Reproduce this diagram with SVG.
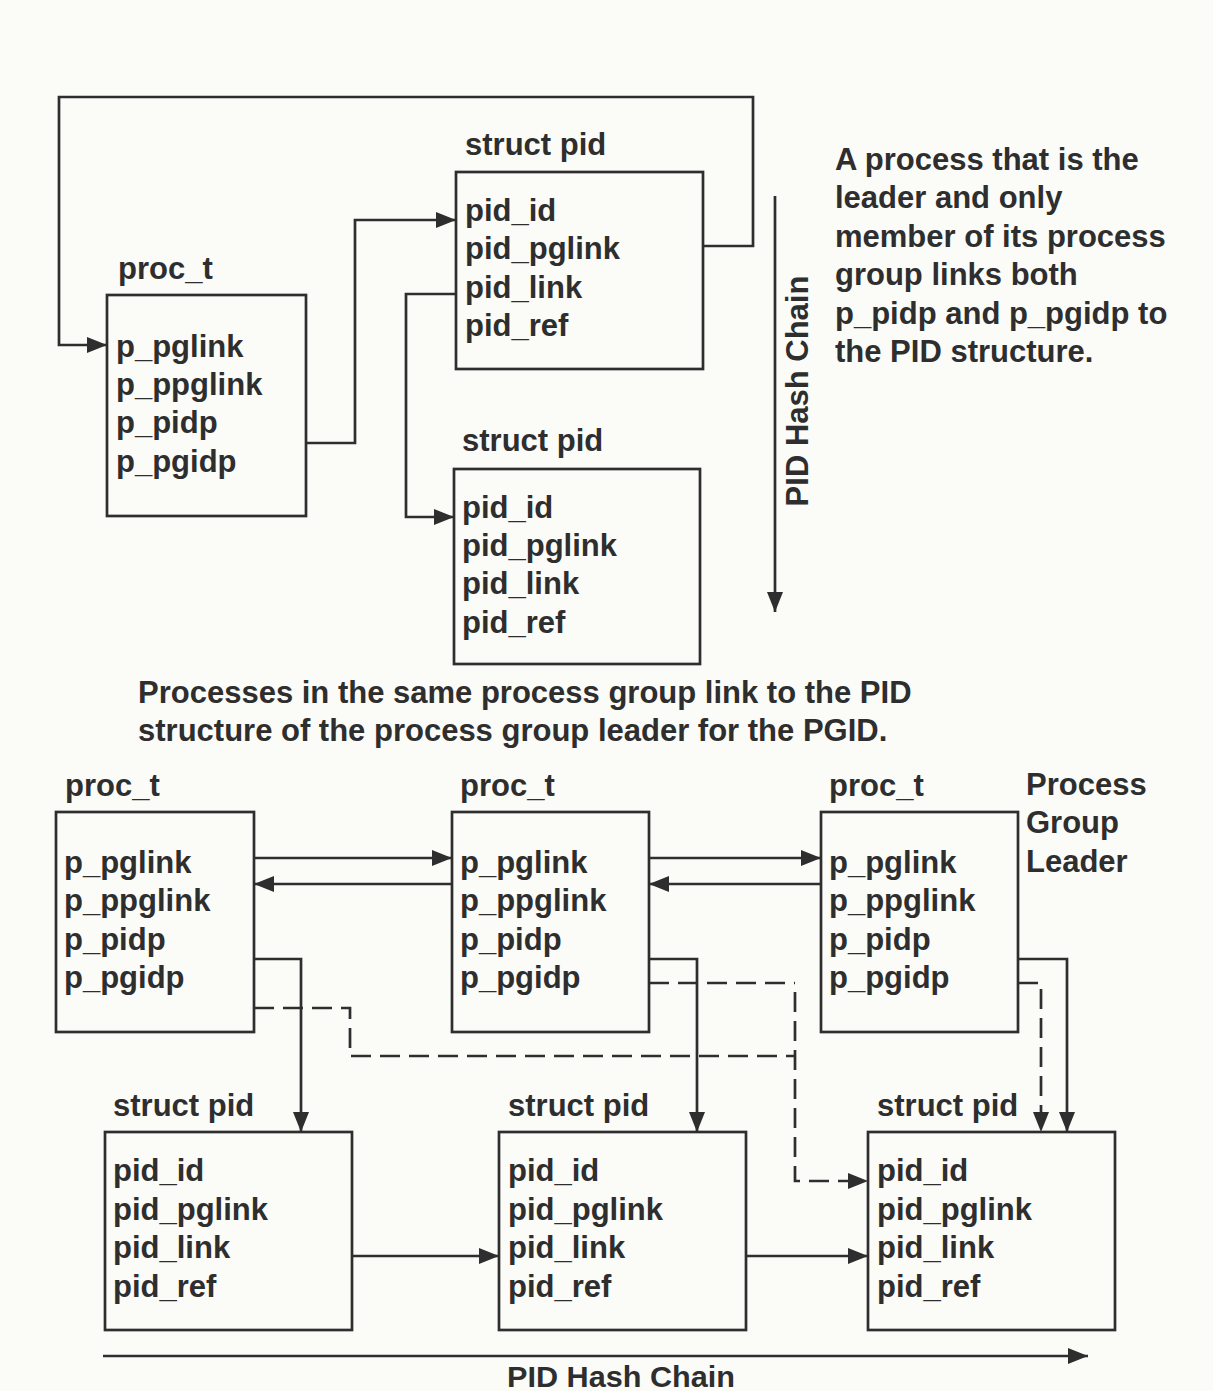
<svg xmlns="http://www.w3.org/2000/svg" width="1213" height="1391" viewBox="0 0 1213 1391">
<defs>
<marker id="ah" markerUnits="userSpaceOnUse" markerWidth="22" markerHeight="18" refX="20" refY="8" orient="auto">
<path d="M0,0 L20,8 L0,16 z" fill="#2e2e2e"/>
</marker>
<style>
text{font-family:"Liberation Sans",Arial,Helvetica,sans-serif;font-weight:bold;font-size:31px;fill:#2e2e2e}
.box{fill:none;stroke:#2e2e2e;stroke-width:2.7}
.ln{fill:none;stroke:#2e2e2e;stroke-width:2.7}
.dash{fill:none;stroke:#2e2e2e;stroke-width:2.7;stroke-dasharray:20 9}
</style>
</defs>
<rect width="1213" height="1391" fill="#fbfbf8"/>

<g id="top-proc_t">
<text x="118" y="279">proc_t</text>
<rect class="box" x="107" y="295" width="199" height="221"/>
<text x="116" y="357">p_pglink</text>
<text x="116" y="395">p_ppglink</text>
<text x="116" y="433">p_pidp</text>
<text x="116" y="472">p_pgidp</text>
</g>

<g id="top-struct-pid-1">
<text x="465" y="155">struct pid</text>
<rect class="box" x="456" y="172" width="247" height="197"/>
<text x="465" y="221">pid_id</text>
<text x="465" y="259">pid_pglink</text>
<text x="465" y="298">pid_link</text>
<text x="465" y="336">pid_ref</text>
</g>

<g id="top-struct-pid-2">
<text x="462" y="451">struct pid</text>
<rect class="box" x="454" y="469" width="246" height="195"/>
<text x="462" y="518">pid_id</text>
<text x="462" y="556">pid_pglink</text>
<text x="462" y="594">pid_link</text>
<text x="462" y="633">pid_ref</text>
</g>

<g id="top-note">
<text x="835" y="170">A process that is the</text>
<text x="835" y="208">leader and only</text>
<text x="835" y="247">member of its process</text>
<text x="835" y="285">group links both</text>
<text x="835" y="324">p_pidp and p_pgidp to</text>
<text x="835" y="362">the PID structure.</text>
</g>

<g id="top-hash-label">
<text transform="translate(808,391) rotate(-90)" text-anchor="middle">PID Hash Chain</text>
</g>

<g id="mid-note">
<text x="138" y="703">Processes in the same process group link to the PID</text>
<text x="138" y="741">structure of the process group leader for the PGID.</text>
</g>

<g id="proc_t-1">
<text x="65" y="796">proc_t</text>
<rect class="box" x="56" y="812" width="198" height="220"/>
<text x="64" y="873">p_pglink</text>
<text x="64" y="911">p_ppglink</text>
<text x="64" y="950">p_pidp</text>
<text x="64" y="988">p_pgidp</text>
</g>

<g id="proc_t-2">
<text x="460" y="796">proc_t</text>
<rect class="box" x="452" y="812" width="197" height="220"/>
<text x="460" y="873">p_pglink</text>
<text x="460" y="911">p_ppglink</text>
<text x="460" y="950">p_pidp</text>
<text x="460" y="988">p_pgidp</text>
</g>

<g id="proc_t-3">
<text x="829" y="796">proc_t</text>
<rect class="box" x="821" y="812" width="197" height="220"/>
<text x="829" y="873">p_pglink</text>
<text x="829" y="911">p_ppglink</text>
<text x="829" y="950">p_pidp</text>
<text x="829" y="988">p_pgidp</text>
</g>

<g id="leader-label">
<text x="1026" y="795">Process</text>
<text x="1026" y="833">Group</text>
<text x="1026" y="872">Leader</text>
</g>

<g id="struct-pid-1">
<text x="113" y="1116">struct pid</text>
<rect class="box" x="105" y="1132" width="247" height="198"/>
<text x="113" y="1181">pid_id</text>
<text x="113" y="1220">pid_pglink</text>
<text x="113" y="1258">pid_link</text>
<text x="113" y="1297">pid_ref</text>
</g>

<g id="struct-pid-2">
<text x="508" y="1116">struct pid</text>
<rect class="box" x="499" y="1132" width="247" height="198"/>
<text x="508" y="1181">pid_id</text>
<text x="508" y="1220">pid_pglink</text>
<text x="508" y="1258">pid_link</text>
<text x="508" y="1297">pid_ref</text>
</g>

<g id="struct-pid-3">
<text x="877" y="1116">struct pid</text>
<rect class="box" x="868" y="1132" width="247" height="198"/>
<text x="877" y="1181">pid_id</text>
<text x="877" y="1220">pid_pglink</text>
<text x="877" y="1258">pid_link</text>
<text x="877" y="1297">pid_ref</text>
</g>

<g id="bottom-hash-label">
<text x="621" y="1387" text-anchor="middle" textLength="228" lengthAdjust="spacingAndGlyphs" style="font-size:29px">PID Hash Chain</text>
</g>

<g id="connectors">
<path class="ln" d="M703,246 H753 V97 H59 V345 H107" marker-end="url(#ah)"/>
<path class="ln" d="M306,443 H355 V220 H456" marker-end="url(#ah)"/>
<path class="ln" d="M456,294 H406 V517 H454" marker-end="url(#ah)"/>
<path class="ln" d="M775,196 V612" marker-end="url(#ah)"/>

<path class="ln" d="M254,858 H452" marker-end="url(#ah)"/>
<path class="ln" d="M452,884 H254" marker-end="url(#ah)"/>
<path class="ln" d="M649,858 H821" marker-end="url(#ah)"/>
<path class="ln" d="M821,884 H649" marker-end="url(#ah)"/>

<path class="ln" d="M254,959 H301 V1132" marker-end="url(#ah)"/>
<path class="ln" d="M649,959 H697 V1132" marker-end="url(#ah)"/>
<path class="ln" d="M1018,959 H1067 V1132" marker-end="url(#ah)"/>

<path class="dash" d="M254,1008 H350 V1056 H795"/>
<path class="dash" d="M649,983 H795"/>
<path class="dash" d="M795,992 V1181 H868" marker-end="url(#ah)"/>
<path class="dash" d="M1018,983 H1041 V1132" marker-end="url(#ah)"/>

<path class="ln" d="M352,1256 H499" marker-end="url(#ah)"/>
<path class="ln" d="M746,1256 H868" marker-end="url(#ah)"/>
<path class="ln" d="M103,1356 H1088" marker-end="url(#ah)"/>
</g>
</svg>
